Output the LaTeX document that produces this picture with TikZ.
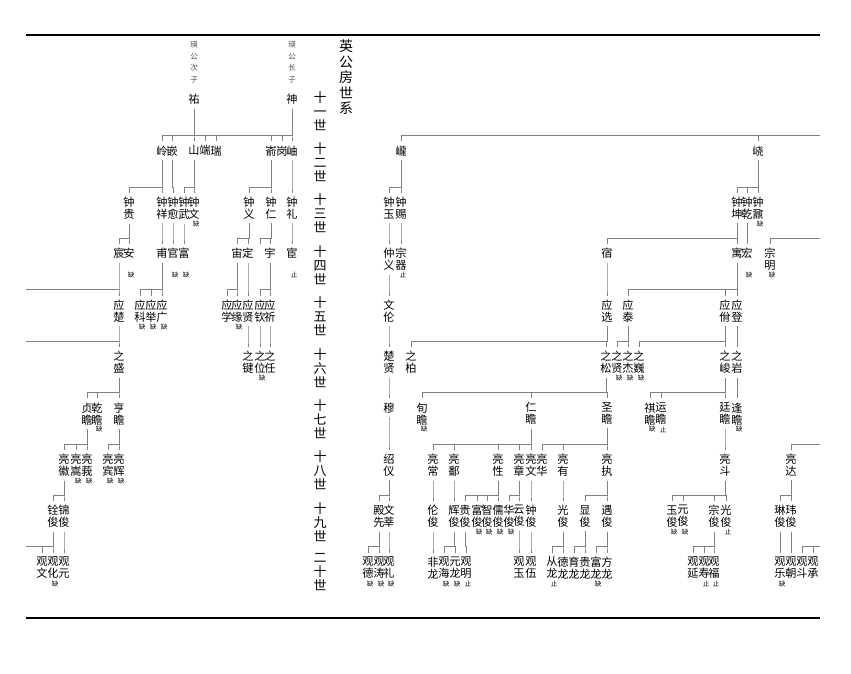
\documentclass[tikz,border=0pt]{standalone}
\usepackage{fontspec}
\newfontfamily\cjk{Noto Sans CJK SC}
\usetikzlibrary{calc}
\tikzset{
  nm/.style={anchor=north,inner xsep=0pt,inner ysep=4pt,align=center,font=\cjk\fontsize{11.2}{12}\selectfont},
  nt/.style={inner sep=0pt,font=\cjk\fontsize{6.5}{7}\selectfont},
  side/.style={anchor=north,inner sep=0pt,align=center,text=black!70,font=\cjk\fontsize{7.5}{11.7}\selectfont},
  gen/.style={anchor=north,inner sep=0pt,align=center,font=\cjk\fontsize{13}{14}\selectfont},
  ln/.style={draw=black!50,line width=0.6pt},
  rule/.style={line width=2.6pt}
}
\newcommand\kin[2]{\foreach \c in {#2}{\draw[ln] (#1.south) |- ($(\c.north)+(0,-6)$) -- (\c.north);}}

\begin{document}
\begin{tikzpicture}[x=1pt,y=-1pt]
\useasboundingbox (0,0) rectangle (851,674);
\draw[rule] (26,35) -- (820,35);
\draw[rule] (26,618) -- (820,618);
% title and generations
\node[anchor=north,inner sep=0pt,align=center,font=\cjk\fontsize{14}{15.5}\selectfont] (title) at (346,40) {英\\公\\房\\世\\系};
\node[gen] (s11) at (320,91) {十\\一\\世};
\node[gen] (s12) at (320,142.4) {十\\二\\世};
\node[gen] (s13) at (320,193.8) {十\\三\\世};
\node[gen] (s14) at (320,245.2) {十\\四\\世};
\node[gen] (s15) at (320,296.6) {十\\五\\世};
\node[gen] (s16) at (320,348) {十\\六\\世};
\node[gen] (s17) at (320,399.4) {十\\七\\世};
\node[gen] (s18) at (320,450.8) {十\\八\\世};
\node[gen] (s19) at (320,502.2) {十\\九\\世};
\node[gen] (s20) at (320,553.6) {二\\十\\世};
% 11
\node[side] (you-n) at (194,41) {瑛\\公\\次\\子};
\node[side] (shen-n) at (292,41) {瑛\\公\\长\\子};
\node[nm] (you) at (194,90) {祐};
\node[nm] (shen) at (292,90) {神};
% 12
\node[nm] (ling) at (162,141.4) {岭};
\node[nm] (qian12) at (172,141.4) {嵌};
\node[nm] (shan) at (194,141.4) {山};
\node[nm] (duan) at (205,141.4) {端};
\node[nm] (rui) at (216,141.4) {瑞};
\node[nm] (yu12) at (271,141.4) {嵛};
\node[nm] (gang) at (282,141.4) {岗};
\node[nm] (xiu) at (292,141.4) {岫};
\node[nm] (long) at (401,141.4) {巄};
\node[nm] (yao) at (758,141.4) {峣};
% 13
\node[nm] (zgui) at (129,192.8) {钟\\贵};
\node[nm] (zxiang) at (162,192.8) {钟\\祥};
\node[nm] (zyu) at (173,192.8) {钟\\愈};
\node[nm] (zwu) at (184,192.8) {钟\\武};
\node[nm] (zwen) at (194,192.8) {钟\\文};
\node[nm] (zyi) at (249,192.8) {钟\\义};
\node[nm] (zren) at (271,192.8) {钟\\仁};
\node[nm] (zli) at (292,192.8) {钟\\礼};
\node[nm] (zyu2) at (389,192.8) {钟\\玉};
\node[nm] (zci) at (401,192.8) {钟\\赐};
\node[nm] (zkun) at (737,192.8) {钟\\坤};
\node[nm] (zqian) at (747,192.8) {钟\\乾};
\node[nm] (znai) at (758,192.8) {钟\\鼐};
\node[nt] (zwen-q) at (196,223.8) {缺};
\node[nt] (znai-q) at (760,223.8) {缺};
% 14
\node[nm] (chen) at (119,244.2) {宸};
\node[nm] (an) at (129,244.2) {安};
\node[nm] (fu) at (162,244.2) {甫};
\node[nm] (guan) at (173,244.2) {官};
\node[nm] (fu2) at (184,244.2) {富};
\node[nm] (zhou) at (237,244.2) {宙};
\node[nm] (ding) at (248,244.2) {定};
\coordinate (kong14) at (260,244.2);
\node[nm] (yu14) at (270,244.2) {宇};
\node[nm] (huan) at (292,244.2) {宦};
\node[nm] (zhongyi) at (389,244.2) {仲\\义};
\node[nm] (zongqi) at (401,244.2) {宗\\器};
\node[nm] (su) at (607,244.2) {宿};
\node[nm] (yu) at (737,244.2) {寓};
\node[nm] (hong) at (747,244.2) {宏};
\node[nm] (zongming) at (770,244.2) {宗\\明};
\node[nt] (an-q) at (131,275.2) {缺};
\node[nt] (guan-q) at (175,275.2) {缺};
\node[nt] (fu2-q) at (186,275.2) {缺};
\node[nt] (huan-q) at (294,275.2) {止};
\node[nt] (zongqi-q) at (403,275.2) {止};
\node[nt] (hong-q) at (749,275.2) {缺};
\node[nt] (zongming-q) at (772,275.2) {缺};
% 15
\node[nm] (yingchu) at (119,295.6) {应\\楚};
\node[nm] (yingke) at (140,295.6) {应\\科};
\node[nm] (yingju) at (151,295.6) {应\\举};
\node[nm] (yingguang) at (162,295.6) {应\\广};
\node[nm] (yingxue) at (227,295.6) {应\\学};
\node[nm] (yingyuan) at (237,295.6) {应\\缘};
\node[nm] (yingxian) at (248,295.6) {应\\贤};
\node[nm] (yingqin) at (260,295.6) {应\\钦};
\node[nm] (yingqi) at (270,295.6) {应\\祈};
\node[nm] (wenlun) at (389,295.6) {文\\伦};
\node[nm] (yingxuan) at (607,295.6) {应\\选};
\node[nm] (yingtai) at (628,295.6) {应\\泰};
\node[nm] (yingyi) at (725,295.6) {应\\佾};
\node[nm] (yingdeng) at (737,295.6) {应\\登};
\node[nt] (yingke-q) at (142,326.6) {缺};
\node[nt] (yingju-q) at (153,326.6) {缺};
\node[nt] (yingguang-q) at (164,326.6) {缺};
\node[nt] (yingyuan-q) at (239,326.6) {缺};
% 16
\node[nm] (zhisheng) at (119,347) {之\\盛};
\node[nm] (zhijian) at (248,347) {之\\键};
\node[nm] (zhiwei) at (260,347) {之\\位};
\node[nm] (zhiren) at (270,347) {之\\任};
\node[nm] (chuxian) at (389,347) {楚\\贤};
\node[nm] (zhibo) at (411,347) {之\\柏};
\node[nm] (zhisong) at (606,347) {之\\松};
\node[nm] (zhixian) at (617,347) {之\\贤};
\node[nm] (zhijie) at (628,347) {之\\杰};
\node[nm] (zhiwei2) at (639,347) {之\\巍};
\node[nm] (zhijun) at (725,347) {之\\峻};
\node[nm] (zhiyan) at (737,347) {之\\岩};
\node[nt] (zhiwei-q) at (262,378) {缺};
\node[nt] (zhixian-q) at (619,378) {缺};
\node[nt] (zhijie-q) at (630,378) {缺};
\node[nt] (zhiwei2-q) at (641,378) {缺};
% 17
\node[nm] (zhen) at (87,398.4) {贞\\瞻};
\node[nm] (qianz) at (97,398.4) {乾\\瞻};
\node[nm] (heng) at (119,398.4) {亨\\瞻};
\node[nm] (mu) at (389,398.4) {穆};
\node[nm] (xun) at (422,398.4) {旬\\瞻};
\node[nm] (renz) at (531,398.4) {仁\\瞻};
\node[nm] (shengz) at (607,398.4) {圣\\瞻};
\node[nm] (qiz) at (650,398.4) {祺\\瞻};
\node[nm] (yunz) at (661,398.4) {运\\瞻};
\node[nm] (ting) at (725,398.4) {廷\\瞻};
\node[nm] (feng) at (737,398.4) {逢\\瞻};
\node[nt] (qianz-q) at (99,429.4) {缺};
\node[nt] (xun-q) at (424,429.4) {缺};
\node[nt] (qiz-q) at (652,429.4) {缺};
\node[nt] (yunz-q) at (663,429.4) {止};
\node[nt] (feng-q) at (739,429.4) {缺};
% 18
\node[nm] (lhui) at (64,449.8) {亮\\徽};
\node[nm] (lsong) at (76,449.8) {亮\\嵩};
\node[nm] (le) at (87,449.8) {亮\\莪};
\node[nm] (lbin) at (108,449.8) {亮\\宾};
\node[nm] (lhui2) at (119,449.8) {亮\\辉};
\node[nm] (shaoyi) at (389,449.8) {绍\\仪};
\node[nm] (lchang) at (433,449.8) {亮\\常};
\node[nm] (lbu) at (454,449.8) {亮\\鄱};
\node[nm] (lxing) at (498,449.8) {亮\\性};
\node[nm] (lzhang) at (519,449.8) {亮\\章};
\node[nm] (lwen) at (531,449.8) {亮\\文};
\node[nm] (lhua) at (542,449.8) {亮\\华};
\node[nm] (lyou) at (563,449.8) {亮\\有};
\node[nm] (lzhi) at (607,449.8) {亮\\执};
\node[nm] (ldou) at (725,449.8) {亮\\斗};
\node[nm] (lda) at (791,449.8) {亮\\达};
\node[nt] (lsong-q) at (78,480.8) {缺};
\node[nt] (le-q) at (89,480.8) {缺};
\node[nt] (lbin-q) at (110,480.8) {缺};
\node[nt] (lhui2-q) at (121,480.8) {缺};
% 19
\node[nm] (quan) at (53,501.2) {铨\\俊};
\node[nm] (jin) at (64,501.2) {锦\\俊};
\node[nm] (dian) at (379,501.2) {殿\\先};
\node[nm] (wenxin) at (389,501.2) {文\\莘};
\node[nm] (lun) at (433,501.2) {伦\\俊};
\node[nm] (hui19) at (454,501.2) {辉\\俊};
\node[nm] (gui19) at (465,501.2) {贵\\俊};
\node[nm] (fu19) at (477,501.2) {富\\俊};
\node[nm] (zhi19) at (487,501.2) {智\\俊};
\node[nm] (ru19) at (498,501.2) {儒\\俊};
\node[nm] (hua19) at (509,501.2) {华\\俊};
\node[nm] (yun19) at (519,501.2) {云\\俊};
\node[nm] (zhong19) at (531,501.2) {钟\\俊};
\node[nm] (guang19) at (563,501.2) {光\\俊};
\node[nm] (xian19) at (585,501.2) {显\\俊};
\node[nm] (yu19) at (607,501.2) {遇\\俊};
\node[nm] (yu19b) at (672,501.2) {玉\\俊};
\node[nm] (yuan19) at (683,501.2) {元\\俊};
\node[nm] (zong19) at (714,501.2) {宗\\俊};
\node[nm] (guang19b) at (726,501.2) {光\\俊};
\node[nm] (lin19) at (780,501.2) {琳\\俊};
\node[nm] (wei19) at (791,501.2) {玮\\俊};
\node[nt] (fu19-q) at (479,532.2) {缺};
\node[nt] (zhi19-q) at (489,532.2) {缺};
\node[nt] (ru19-q) at (500,532.2) {缺};
\node[nt] (hua19-q) at (511,532.2) {缺};
\node[nt] (yu19b-q) at (674,532.2) {缺};
\node[nt] (yuan19-q) at (685,532.2) {缺};
\node[nt] (guang19b-q) at (728,532.2) {止};
% 20
\node[nm] (gwen) at (42,552.6) {观\\文};
\node[nm] (ghua) at (53,552.6) {观\\化};
\node[nm] (gyuan) at (64,552.6) {观\\元};
\node[nm] (gde) at (368,552.6) {观\\德};
\node[nm] (gtao) at (379,552.6) {观\\涛};
\node[nm] (gli) at (389,552.6) {观\\礼};
\node[nm] (feilong) at (433,552.6) {非\\龙};
\node[nm] (ghai) at (444,552.6) {观\\海};
\node[nm] (yuanlong) at (455,552.6) {元\\龙};
\node[nm] (gming) at (466,552.6) {观\\明};
\node[nm] (gyu) at (519,552.6) {观\\玉};
\node[nm] (gwu) at (531,552.6) {观\\伍};
\node[nm] (conglong) at (552,552.6) {从\\龙};
\node[nm] (delong) at (563,552.6) {德\\龙};
\node[nm] (yulong) at (574,552.6) {育\\龙};
\node[nm] (guilong) at (585,552.6) {贵\\龙};
\node[nm] (fulong) at (596,552.6) {富\\龙};
\node[nm] (fanglong) at (607,552.6) {方\\龙};
\node[nm] (gyan) at (693,552.6) {观\\延};
\node[nm] (gshou) at (704,552.6) {观\\寿};
\node[nm] (gfu) at (714,552.6) {观\\福};
\node[nm] (gle) at (780,552.6) {观\\乐};
\node[nm] (gchao) at (791,552.6) {观\\朝};
\node[nm] (gdou) at (802,552.6) {观\\斗};
\node[nm] (gcheng) at (813,552.6) {观\\承};
\node[nt] (ghua-q) at (55,583.6) {缺};
\node[nt] (gde-q) at (370,583.6) {缺};
\node[nt] (gtao-q) at (381,583.6) {缺};
\node[nt] (gli-q) at (391,583.6) {缺};
\node[nt] (ghai-q) at (446,583.6) {缺};
\node[nt] (yuanlong-q) at (457,583.6) {缺};
\node[nt] (gming-q) at (468,583.6) {止};
\node[nt] (conglong-q) at (554,583.6) {止};
\node[nt] (fulong-q) at (598,583.6) {缺};
\node[nt] (gshou-q) at (706,583.6) {止};
\node[nt] (gfu-q) at (716,583.6) {止};
\node[nt] (gle-q) at (782,583.6) {缺};
% page edges
\coordinate (rgt0) at (820,135.4);
\coordinate (rgt1) at (820,238.2);
\coordinate (rgt2) at (820,443.8);
\coordinate (rgt3) at (820,546.6);
\coordinate (lft1) at (26,289.6);
\coordinate (lft2) at (26,341);
\coordinate (lft3) at (26,546.6);
\draw[ln] (rgt0) -| (long.north);
\draw[ln] (rgt0) -| (yao.north);
\draw[ln] (rgt1) -| (zongming.north);
\draw[ln] (rgt2) -| (lda.north);
\draw[ln] (rgt3) -| (gdou.north);
\draw[ln] (rgt3) -| (gcheng.north);
\draw[ln] (lft1) -- (lft1 -| yingchu.north);
\draw[ln] (lft2) -- (lft2 -| zhisheng.north);
\draw[ln] (lft3) -- (lft3 -| ghua.north);
% lines
\kin{you}{ling,qian12,shan}
\kin{shen}{duan,rui,yu12,gang,xiu}
\draw[ln] ($(duan.north)+(0,-6)$) -- ($(shan.north)+(0,-6)$);
\kin{ling}{zgui,zxiang}
\kin{qian12}{zyu}
\kin{shan}{zwu,zwen}
\kin{yu12}{zyi,zren}
\kin{xiu}{zli}
\kin{long}{zyu2,zci}
\kin{yao}{zkun,zqian,znai}
\kin{zgui}{chen,an}
\kin{zxiang}{fu}
\kin{zyu}{guan}
\kin{zwu}{fu2}
\kin{zyi}{zhou,ding}
\kin{zren}{yu14}
\draw[ln] (zren.south) |- ($(kong14)+(0,-6)$) -- (kong14);
\kin{zli}{huan}
\kin{zyu2}{zhongyi}
\kin{zci}{zongqi}
\kin{zkun}{su,yu}
\kin{zqian}{hong}
\kin{chen}{yingchu}
\kin{fu}{yingke,yingju,yingguang}
\kin{zhou}{yingxue,yingyuan}
\kin{ding}{yingxian}
\kin{yu14}{yingqin,yingqi}
\kin{zhongyi}{wenlun}
\kin{su}{yingxuan}
\kin{yu}{yingtai,yingyi,yingdeng}
\kin{yingchu}{zhisheng}
\kin{yingxian}{zhijian}
\kin{yingqin}{zhiwei}
\kin{yingqi}{zhiren}
\kin{wenlun}{chuxian}
\kin{yingxuan}{zhibo,zhisong}
\kin{yingtai}{zhixian,zhijie}
\kin{yingyi}{zhiwei2,zhijun}
\kin{yingdeng}{zhiyan}
\kin{zhisheng}{zhen,qianz,heng}
\kin{chuxian}{mu}
\kin{zhisong}{xun,renz,shengz}
\kin{zhijun}{qiz,yunz,ting}
\kin{zhiyan}{feng}
\kin{zhen}{lhui,lsong,le}
\kin{heng}{lbin,lhui2}
\kin{mu}{shaoyi}
\kin{renz}{lchang,lbu,lxing,lzhang,lwen}
\kin{shengz}{lhua,lyou,lzhi}
\kin{ting}{ldou}
\kin{lhui}{quan,jin}
\kin{shaoyi}{dian,wenxin}
\kin{lchang}{lun}
\kin{lbu}{hui19}
\kin{lxing}{gui19,fu19,zhi19,ru19}
\kin{lzhang}{hua19,yun19}
\kin{lwen}{zhong19}
\kin{lyou}{guang19}
\kin{lzhi}{xian19,yu19}
\kin{ldou}{yu19b,yuan19,zong19,guang19b}
\kin{lda}{lin19,wei19}
\kin{quan}{gwen,ghua}
\kin{jin}{gyuan}
\kin{dian}{gde,gtao}
\kin{wenxin}{gli}
\kin{lun}{feilong}
\kin{hui19}{ghai,yuanlong}
\kin{gui19}{gming}
\kin{yun19}{gyu}
\kin{zhong19}{gwu}
\kin{guang19}{conglong,delong}
\kin{xian19}{yulong,guilong}
\kin{yu19}{fulong,fanglong}
\kin{zong19}{gyan,gshou,gfu}
\kin{lin19}{gle}
\kin{wei19}{gchao}
\end{tikzpicture}
\end{document}
